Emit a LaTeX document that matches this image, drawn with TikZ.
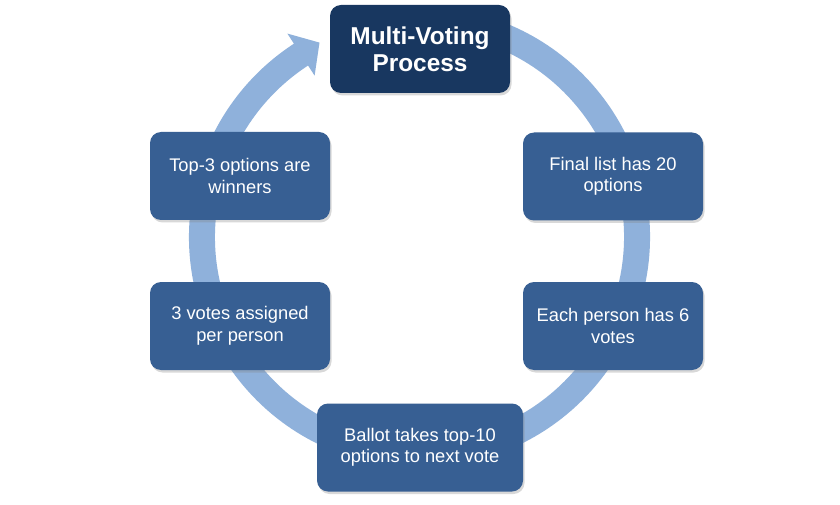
\documentclass[tikz,border=0pt]{standalone}
\usepackage{fontspec}
\setmainfont{Liberation Sans}
\usetikzlibrary{shadows}
\definecolor{ringblue}{RGB}{143,177,219}
\definecolor{boxblue}{RGB}{55,95,147}
\definecolor{topblue}{RGB}{24,55,96}
\begin{document}
\begin{tikzpicture}[x=1pt,y=1pt,
  stepbox/.style={draw=none, fill=boxblue, rounded corners=11pt,
    minimum width=180pt, minimum height=88pt, inner sep=0pt,
    text=white, align=center, font=\fontsize{18.3}{21.5}\selectfont,
    drop shadow={opacity=0.3, shadow xshift=1.5pt, shadow yshift=-2.5pt}},
  ringband/.style={draw=ringblue, line width=26pt},
  ringhead/.style={fill=ringblue, draw=none}]
\useasboundingbox (0,0) rectangle (840,504);
\fill[white] (0,0) rectangle (840,504);
\coordinate (c) at (419.5,267);
\draw[ringband] ([shift={(75:217.5)}]c) arc[start angle=75, end angle=-238, radius=217.5];
\coordinate (h1) at (287.4,470.4);
\coordinate (h2) at (319.5,461.4);
\coordinate (h3) at (314.6,428.4);
\fill[ringhead] (h1) -- (h2) -- (h3) -- cycle;
\node[stepbox, fill=topblue, font=\bfseries\fontsize{24.4}{27}\selectfont] (top) at (420,455) {Multi-Voting\\Process};
\node[stepbox] (tr) at (613,327.5) {Final list has 20\\options};
\node[stepbox] (mr) at (613,178) {Each person has 6\\votes};
\node[stepbox, minimum width=206pt] (bot) at (420,56.5) {Ballot takes top-10\\options to next vote};
\node[stepbox] (ml) at (240,178) {3 votes assigned\\per person};
\node[stepbox] (tl) at (240,328) {Top-3 options are\\winners};
\end{tikzpicture}
\end{document}
